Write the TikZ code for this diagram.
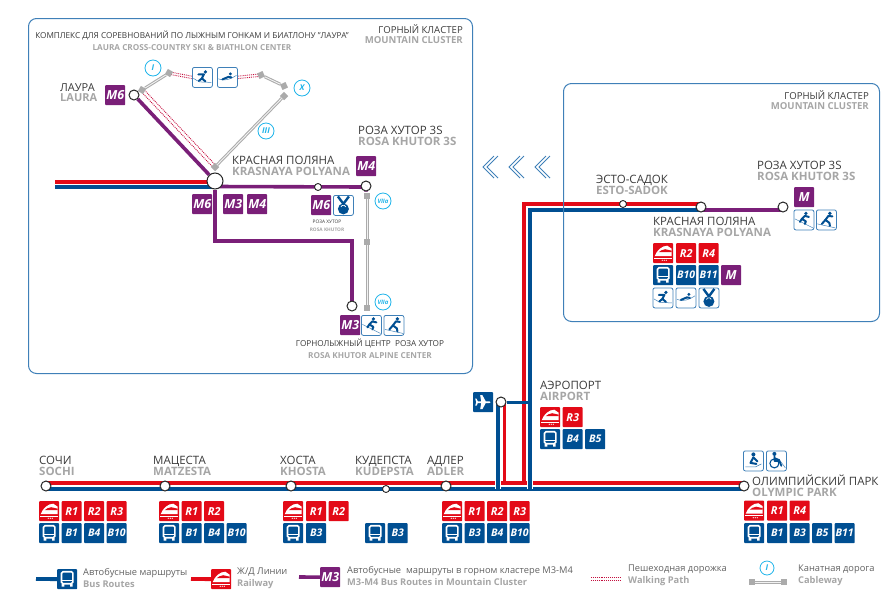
\documentclass[tikz,border=0pt]{standalone}
\usepackage{fontspec}
\setmainfont{Open Sans}
\usetikzlibrary{backgrounds}
\definecolor{rlred}{HTML}{E30A17}
\definecolor{busblue}{HTML}{004F92}
\definecolor{mpurple}{HTML}{7A1F78}
\definecolor{frameblue}{HTML}{3F80B8}
\definecolor{cabgrey}{HTML}{ABABAB}
\definecolor{skyblue}{HTML}{1FB4EA}
\definecolor{walkred}{HTML}{C4103F}
\definecolor{txtdark}{HTML}{3A3A3A}
\definecolor{txtgrey}{HTML}{A6A6A6}
\newcommand{\eng}[1]{\textcolor{txtgrey}{\bfseries #1}}
\tikzset{
	tilebase/.style={anchor=north west,minimum size=20pt,inner sep=0pt,rounded corners=.8pt,text=white,font=\fontsize{11}{11}\selectfont\bfseries\itshape},
	rtile/.style={tilebase,fill=rlred},
	btile/.style={tilebase,fill=busblue,font=\fontsize{10.5}{10}\selectfont\bfseries\itshape},
	mtile/.style={tilebase,fill=mpurple,font=\fontsize{12.5}{11}\selectfont\bfseries\itshape},
	stile/.style={tilebase,fill=white,draw=frameblue,line width=.8pt,minimum size=20pt,rounded corners=2pt},
	bigstop/.style={circle,draw=black!85,fill=white,line width=1pt,minimum size=16pt,inner sep=0pt},
	stop/.style={circle,draw=black!85,fill=white,line width=1pt,minimum size=10pt,inner sep=0pt},
	smallstop/.style={circle,draw=black!85,fill=white,line width=.9pt,minimum size=7pt,inner sep=0pt},
	cabstop/.style={rectangle,fill=cabgrey,minimum size=6pt,inner sep=0pt},
	cabnum/.style={circle,draw=skyblue,fill=white,line width=.8pt,minimum size=16pt,inner sep=0pt,text=skyblue,font=\fontsize{8}{8}\selectfont\bfseries\itshape},
	redline/.style={draw=rlred,line width=3.8pt},
	blueline/.style={draw=busblue,line width=3.8pt},
	purpleline/.style={draw=mpurple,line width=3.6pt},
	casing/.style={draw=white,line width=5.6pt},
	cable/.style={draw=cabgrey,line width=3pt,postaction={draw=white!85!cabgrey,line width=.9pt}},
	walk/.style={draw=walkred,line width=.9pt,densely dotted},
	frame/.style={draw=frameblue,line width=1pt,rounded corners=8pt},
	lbl/.style={anchor=west,inner sep=0pt,align=left,text=txtdark,font=\fontsize{11.5}{11}\selectfont},
	lblr/.style={anchor=east,inner sep=0pt,align=right,text=txtdark,font=\fontsize{9.6}{9.5}\selectfont},
	lblc/.style={inner sep=0pt,align=center,text=txtdark,font=\fontsize{8.2}{12}\selectfont},
	leg/.style={anchor=west,inner sep=0pt,align=left,text=txtdark!80,font=\fontsize{9.3}{12}\selectfont},
	fig/.style={draw=busblue,line width=2pt,line cap=round,line join=round},
	figthin/.style={draw=frameblue,line width=.5pt},
	trainicon/.pic={
		\fill[white] (-8.5,3) .. controls (-6.5,-3) and (-1,-7.5) .. (4,-7.5) -- (8.5,-4.5) -- (8.5,3) -- cycle;
		\fill[rlred] (-4.5,-1) .. controls (-3,-2.5) and (-1,-3.5) .. (2,-4) -- (8.5,-2.5) -- (8.5,-1) -- cycle;
		\draw[white,line width=1pt] (-9,5) -- (9,5);
		\foreach \x in {-1,1,3} \fill[white] (\x,7) circle (.6);
	},
	busicon/.pic={
		\draw[white,line width=1.6pt,rounded corners=1.5pt] (-5.7,-7.5) rectangle (5.7,4.5);
		\draw[white,line width=1.4pt] (-5.7,1) -- (5.7,1);
		\fill[white] (-5.5,5) rectangle (-2.8,7.5) (2.8,5) rectangle (5.5,7.5);
	},
	planeicon/.pic={
		\fill[white] (-7,-.9) -- (-2,-.9) -- (-3,-7) -- (-.8,-7) -- (2.5,-.9) -- (6,-.9) .. controls (8,-.9) and (8,.9) .. (6,.9) -- (2.5,.9) -- (-.8,7) -- (-3,7) -- (-2,.9) -- (-7,.9) -- cycle;
		\fill[white] (-8,-3.5) -- (-6.6,-3.5) -- (-5,0) -- (-6.6,3.5) -- (-8,3.5) -- (-7,0) -- cycle;
	},
	xcicon/.pic={
		\draw[figthin] (-9,1) -- (-3,4.5) -- (9,5);
		\fill[busblue] (3,-5.5) circle (1.8);
		\draw[fig] (-4,-3) -- (1.5,-3) -- (-.5,1) -- (3,4);
		\draw[fig] (-.5,1) -- (-3.5,3.5);
	},
	proneicon/.pic={
		\draw[figthin] (-9,1.5) .. controls (-3,4) and (3,2) .. (9,-2);
		\fill[busblue] (3,-3.5) circle (1.6);
		\draw[fig] (-5,2) -- (1,-.5) -- (4,0);
	},
	medalicon/.pic={
		\draw[busblue,line width=2.4pt] (-5.5,-9) -- (0,-1.5) -- (5.5,-9);
		\fill[busblue] (0,3.5) circle (5.5);
		\draw[white,line width=.7pt] (-2.5,1.5) arc (200:340:2.6);
	},
	alpineicon/.pic={
		\draw[figthin] (-9,-1) -- (9,8);
		\fill[busblue] (2,-6.5) circle (1.8);
		\draw[fig] (5,-3) -- (1,-4) -- (-2,-1) -- (2,1.5) -- (1,4);
		\draw[fig] (-2,-1) -- (-4,2);
	},
	boardicon/.pic={
		\draw[figthin] (-9,4) -- (9,8);
		\fill[busblue] (3.5,-6.5) circle (1.9);
		\draw[fig] (6,-3.5) -- (2,-4) -- (-1,0) -- (3,3) -- (3.5,6);
		\draw[fig] (-1,0) -- (-4.5,4);
	},
	sledgeicon/.pic={
		\draw[figthin] (-8,6) -- (2,6) -- (8,3);
		\fill[busblue] (0,-6.5) circle (2);
		\draw[fig] (0,-3.5) -- (-3,2) -- (3,3);
		\draw[fig] (0,-3.5) -- (4,.5);
	},
	curlingicon/.pic={
		\draw[figthin] (3,-1) -- (9,7);
		\fill[busblue] (-2,-7) circle (2);
		\draw[busblue,line width=1.1pt] (-2,2.5) circle (4.5);
		\draw[fig,line width=1.7pt] (-2,-4.5) -- (-2,0) -- (3,0) -- (5,5);
		\draw[fig,line width=1.4pt] (-2,-3) -- (3,-1);
	},
}
% one row of route tiles, 22.5 apart
\newcommand{\tilerow}[5]{\foreach \t [count=\i from 0] in {#5} \node[#1] (#2\t) at ({#3+22.5*\i},#4) {\t};}
\newcommand{\icontile}[5]{\node[#1] (#2) at (#3,#4) {}; \pic at (#2.center) {#5};}
\begin{document}
\begin{tikzpicture}[x=1pt,y=-1pt]
	\useasboundingbox (0,0) rectangle (895,598);
	% cluster frames
		\node[frame,anchor=north west,minimum width=444pt,minimum height=355pt,inner sep=0pt] (leftframe) at (28,18) {};
		\node[frame,anchor=north west,minimum width=316pt,minimum height=238pt,inner sep=0pt] (rightframe) at (563,83) {};
		\node[lblr] (cluster1) at (463,34) {ГОРНЫЙ КЛАСТЕР\\\eng{MOUNTAIN CLUSTER}};
		\node[lblr] (cluster2) at (869,100) {ГОРНЫЙ КЛАСТЕР\\\eng{MOUNTAIN CLUSTER}};
		\node[lblc] (laurahead) at (192,41) {КОМПЛЕКС ДЛЯ СОРЕВНОВАНИЙ ПО ЛЫЖНЫМ ГОНКАМ И БИАТЛОНУ "ЛАУРА"\\\eng{LAURA CROSS-COUNTRY SKI \& BIATHLON CENTER}};
	% arrows between clusters
		\foreach \x in {483,509,535} {
			\draw[frameblue,line width=.9pt] (\x+11,156) -- (\x,167) -- (\x+11,178);
			\draw[frameblue,line width=.9pt] (\x+15,156) -- (\x+4,167) -- (\x+15,178);
		}
	% stations, mountain map
		\node[bigstop] (krasnaya) at (215,181) {};
		\node[stop] (laura) at (134,95) {};
		\node[smallstop] (midstop) at (318,187) {};
		\node[stop] (rosa3s) at (366,186) {};
		\node[stop] (alpine) at (352,306) {};
		\coordinate (westend) at (55,185);
		\coordinate (turn1) at (215,241);
		\coordinate (turn2) at (352,241);
	% cableways
		\node[cabstop,rotate=-30] (cab1) at (142,90) {};
		\node[cabstop,rotate=-30] (cab2) at (169,73) {};
		\node[cabstop,rotate=25] (cab3) at (261,75) {};
		\node[cabstop,rotate=25] (cab4) at (284,86) {};
		\node[cabstop,rotate=45] (cab5) at (284,96) {};
		\node[cabstop,rotate=45] (cab6) at (215,167) {};
		\node[cabstop] (cab7) at (367,196) {};
		\node[cabstop] (cab8) at (367,242) {};
		\node[cabstop] (cab9) at (367,308) {};
		\node[cabnum] (numI) at (153,68) {I};
		\node[cabnum] (numX) at (302,88) {X};
		\node[cabnum] (numIII) at (266,131) {III};
		\node[cabnum,font=\fontsize{6}{6}\selectfont\bfseries\itshape] (numVIIa) at (383,201) {VIIa};
		\node[cabnum,font=\fontsize{6}{6}\selectfont\bfseries\itshape] (numVIIb) at (383,302) {VIIa};
	% tiles, mountain map
		\tilerow{mtile}{laura}{105}{85}{M6}
		\tilerow{mtile}{krasn}{192}{194}{M6}
		\tilerow{mtile}{krasn}{223}{194}{M3}
		\tilerow{mtile}{krasn}{247}{194}{M4}
		\tilerow{mtile}{top}{356}{156}{M4}
		\tilerow{mtile}{mid}{311}{195}{M6}
		\tilerow{mtile}{alp}{340}{315}{M3}
		\icontile{stile}{midmedal}{333}{195}{medalicon}
		\icontile{stile}{lauraxc}{192}{67}{xcicon}
		\icontile{stile}{lauraprone}{217}{67}{proneicon}
		\icontile{stile}{alpski}{361}{315}{alpineicon}
		\icontile{stile}{alpboard}{383.5}{315}{boardicon}
	% stations, mountain cluster on the right
		\node[smallstop] (esto) at (623,204) {};
		\node[stop] (krasn2) at (701,207) {};
		\node[stop] (rosa2) at (783,207) {};
		\tilerow{mtile}{rosam}{794}{187}{M}
		\icontile{stile}{rosaski}{793.5}{209.5}{alpineicon}
		\icontile{stile}{rosaboard}{816}{209.5}{boardicon}
		\icontile{rtile}{k2train}{653}{243}{trainicon}
		\tilerow{rtile}{ktwo}{676}{243}{R2,R4}
		\icontile{btile}{k2bus}{653}{265}{busicon}
		\tilerow{btile}{ktwo}{676}{265}{B10,B11}
		\tilerow{mtile}{ktwo}{721}{265}{M}
		\icontile{stile}{k2xc}{652.5}{287.5}{xcicon}
		\icontile{stile}{k2prone}{675.5}{287.5}{proneicon}
		\icontile{stile}{k2medal}{698.5}{287.5}{medalicon}
	% stations on the coast
		\node[stop] (sochi) at (46,486) {};
		\node[stop] (matzesta) at (165,486) {};
		\node[stop] (khosta) at (291,486) {};
		\node[smallstop] (kudepsta) at (386,489) {};
		\node[stop] (adler) at (446,486) {};
		\node[stop] (olympic) at (744,486) {};
		\node[stop] (airport) at (501,402) {};
		\coordinate (redfork) at (524,483);
		\coordinate (bluefork) at (530,489);
		\coordinate (redtop) at (524,204);
		\coordinate (bluetop) at (530,210);
	% tiles on the coast
		\icontile{rtile}{sochitrain}{39}{501}{trainicon}
		\tilerow{rtile}{sochi}{61.5}{501}{R1,R2,R3}
		\icontile{btile}{sochibus}{39}{523}{busicon}
		\tilerow{btile}{sochi}{61.5}{523}{B1,B4,B10}
		\icontile{rtile}{matztrain}{159}{501}{trainicon}
		\tilerow{rtile}{matz}{181.5}{501}{R1,R2}
		\icontile{btile}{matzbus}{159}{523}{busicon}
		\tilerow{btile}{matz}{181.5}{523}{B1,B4,B10}
		\icontile{rtile}{khotrain}{283}{501}{trainicon}
		\tilerow{rtile}{kho}{306}{501}{R1,R2}
		\icontile{btile}{khobus}{283}{523}{busicon}
		\tilerow{btile}{kho}{306}{523}{B3}
		\icontile{btile}{kudbus}{365}{523}{busicon}
		\tilerow{btile}{kud}{387.5}{523}{B3}
		\icontile{rtile}{adltrain}{442}{501}{trainicon}
		\tilerow{rtile}{adl}{464.5}{501}{R1,R2,R3}
		\icontile{btile}{adlbus}{442}{523}{busicon}
		\tilerow{btile}{adl}{464.5}{523}{B3,B4,B10}
		\icontile{rtile}{airtrain}{540}{407}{trainicon}
		\tilerow{rtile}{air}{562.5}{407}{R3}
		\icontile{btile}{airbus}{540}{429}{busicon}
		\tilerow{btile}{air}{562.5}{429}{B4,B5}
		\icontile{btile}{airplane}{473}{392}{planeicon}
		\icontile{rtile}{olytrain}{744}{500.5}{trainicon}
		\tilerow{rtile}{oly}{767}{500.5}{R1,R4}
		\icontile{btile}{olybus}{744}{523}{busicon}
		\tilerow{btile}{oly}{767}{523}{B1,B3,B5,B11}
		\icontile{stile}{olysledge}{743}{450.5}{sledgeicon}
		\icontile{stile}{olycurl}{766}{450.5}{curlingicon}
	% station names
		\node[lbl,font=\fontsize{11}{10}\selectfont] (tlaura) at (60,92.5) {ЛАУРА\\\eng{LAURA}};
		\node[lbl] (tkrasn) at (232,166) {КРАСНАЯ ПОЛЯНА\\\eng{KRASNAYA POLYANA}};
		\node[lbl] (trosa) at (358,136) {РОЗА ХУТОР 3S\\\eng{ROSA KHUTOR 3S}};
		\node[lbl] (testo) at (596,185) {ЭСТО-САДОК\\\eng{ESTO-SADOK}};
		\node[lbl] (tkrasn2) at (653,227) {КРАСНАЯ ПОЛЯНА\\\eng{KRASNAYA POLYANA}};
		\node[lbl] (trosa2) at (757,171) {РОЗА ХУТОР 3S\\\eng{ROSA KHUTOR 3S}};
		\node[lbl] (tairport) at (540,390.5) {АЭРОПОРТ\\\eng{AIRPORT}};
		\node[lbl] (tsochi) at (39,465.5) {СОЧИ\\\eng{SOCHI}};
		\node[lbl] (tmatz) at (153,465.5) {МАЦЕСТА\\\eng{MATZESTA}};
		\node[lbl] (tkhosta) at (280,465.5) {ХОСТА\\\eng{KHOSTA}};
		\node[lbl] (tkud) at (355,465.5) {КУДЕПСТА\\\eng{KUDEPSTA}};
		\node[lbl] (tadler) at (427,465.5) {АДЛЕР\\\eng{ADLER}};
		\node[lbl] (toly) at (752,485.5) {ОЛИМПИЙСКИЙ ПАРК\\\eng{OLYMPIC PARK}};
		\node[lblc] (talpine) at (370,349) {ГОРНОЛЫЖНЫЙ ЦЕНТР\ \ РОЗА ХУТОР\\\eng{ROSA KHUTOR ALPINE CENTER}};
		\node[lblc,font=\fontsize{4.8}{8}\selectfont] (tmid) at (327,226) {РОЗА ХУТОР\\\eng{ROSA KHUTOR}};
	% legend
		\coordinate (legbus) at (36,579);
		\icontile{btile}{legbustile}{57}{569}{busicon}
		\node[leg] (tlegbus) at (83,578) {Автобусные маршруты\\\eng{Bus Routes}};
		\coordinate (legrail) at (191,579);
		\icontile{rtile}{legrailtile}{211}{569}{trainicon}
		\node[leg] (tlegrail) at (237,578) {Ж/Д Линии\\\eng{Railway}};
		\coordinate (legm) at (299,577);
		\tilerow{mtile}{leg}{320}{567}{M3}
		\node[leg] (tlegm) at (347,575.5) {Автобусные\ \ маршруты в горном кластере М3-М4\\\eng{M3-M4 Bus Routes in Mountain Cluster}};
		\coordinate (legwalk1) at (591,579);
		\coordinate (legwalk2) at (621,579);
		\node[leg] (tlegwalk) at (628,575) {Пешеходная дорожка\\\eng{Walking Path}};
		\node[cabstop,minimum width=6pt] (legcab1) at (752,582) {};
		\node[cabstop,minimum width=6pt] (legcab2) at (784,582) {};
		\node[cabnum,minimum size=14pt] (legnum) at (767,568) {I};
		\node[leg] (tlegcab) at (798,575) {Канатная дорога\\\eng{Cableway}};
	% lines go under the stations and tiles
	\begin{scope}[on background layer]
		% mountain map
		\draw[redline] ([yshift=3pt]westend) -- ([yshift=-1pt]krasnaya.center);
		\draw[blueline] ([yshift=-2pt]westend) -- ([yshift=-6pt]krasnaya.center);
		\draw[purpleline] (laura) -- (krasnaya);
		\draw[purpleline] (krasnaya) -- (turn1) -- (turn2) -- (alpine);
		\draw[purpleline] ([yshift=-5.5pt]krasnaya.center) -- (rosa3s.center |- midstop) -- (rosa3s);
		\draw[cable] (cab1) -- (cab2);
		\draw[cable] (cab3) -- (cab4);
		\draw[cable] (cab5) -- (cab6);
		\draw[cable] (cab7) -- (cab8);
		\draw[cable] (cab8) -- (cab9);
		\draw[walk] ([yshift=1.2pt]cab2.center) -- ([yshift=1.2pt]lauraxc.west);
		\draw[walk] ([yshift=-1.2pt]cab2.center) -- ([yshift=-1.2pt]lauraxc.west);
		\draw[walk] ([yshift=1.2pt]lauraprone.east) -- ([yshift=1.2pt]cab3.center);
		\draw[walk] ([yshift=-1.2pt]lauraprone.east) -- ([yshift=-1.2pt]cab3.center);
		\draw[walk] ([xshift=1.2pt,yshift=1.2pt]cab1.center) -- ([xshift=1.2pt,yshift=1.2pt]cab6.center);
		\draw[walk] ([xshift=-1.2pt,yshift=-1.2pt]cab1.center) -- ([xshift=-1.2pt,yshift=-1.2pt]cab6.center);
		% coast and road up the valley
		\draw[redline] ([yshift=3pt]sochi.center) -- ([yshift=3pt]olympic.center);
		\draw[blueline] ([yshift=-3pt]sochi.center) -- ([yshift=-3pt]olympic.center);
		\draw[casing] (airport.center) ++(-3,0) -- ++(0,87);
		\draw[casing] (bluefork) -- (bluetop);
		\draw[redline,line width=3pt] ([xshift=3pt]airport.center) -- ([xshift=3pt]airport.center |- redfork);
		\draw[blueline,line width=3.4pt] ([xshift=-3pt]airport.center) -- ([xshift=-3pt]airport.center |- bluefork);
		\draw[redline] (redfork) -- (redtop) -- ([yshift=3pt]krasn2.center);
		\draw[blueline] (bluefork) -- (bluetop) -- ([yshift=-3pt]krasn2.center);
		\draw[blueline,line width=3pt] (airport) -- (airport -| bluefork);
		\draw[purpleline] ([yshift=-3pt]krasn2.center) -- ([yshift=-3pt]rosa2.center);
		% legend samples
		\draw[blueline] (legbus) -- (legbustile);
		\draw[redline] (legrail) -- (legrailtile);
		\draw[purpleline] (legm) -- (legM3);
		\draw[walk] ([yshift=1.2pt]legwalk1) -- ([yshift=1.2pt]legwalk2);
		\draw[walk] ([yshift=-1.2pt]legwalk1) -- ([yshift=-1.2pt]legwalk2);
		\draw[cable] (legcab1) -- (legcab2);
	\end{scope}
\end{tikzpicture}
\end{document}
